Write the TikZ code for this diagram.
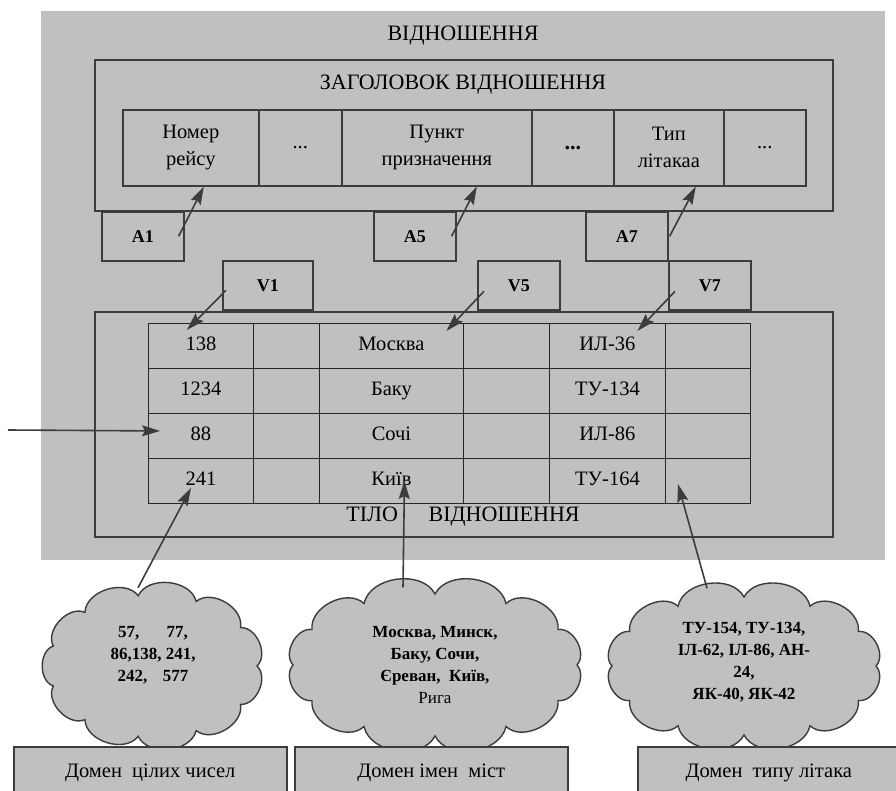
\documentclass[tikz,border=0pt]{standalone}
\usepackage{fontspec}
\setmainfont{Liberation Serif}
\usepackage{tikz}
\usetikzlibrary{arrows.meta,positioning}
\definecolor{panel}{HTML}{C0C0C0}
\definecolor{ink}{HTML}{3C3C3C}
% cloud outline: centre x, centre y, half axes a and b, number of puffs
\newcommand{\puffcloud}[5]{%
  \draw[puff] ([shift={(0:#3 and #4)}]#1,#2)
    \foreach \k in {1,...,#5}{ to[bend left=70] ([shift={({\k*360/#5}:#3 and #4)}]#1,#2) } -- cycle;}

\begin{document}
\begin{tikzpicture}[
  x=1pt, y=-1pt,
  box/.style={draw=ink, line width=1.6pt, fill=panel, anchor=north west, inner sep=0pt},
  hcell/.style={box, minimum height=76pt, align=center, font=\fontsize{20.5}{27}\selectfont},
  tag/.style={box, minimum width=82pt, minimum height=49pt, font=\bfseries\fontsize{18}{20}\selectfont},
  tcell/.style={draw=black!85, line width=0.9pt, anchor=north west, minimum height=45pt,
    inner sep=0pt, text height=14pt, text depth=4pt, font=\fontsize{20.5}{23}\selectfont},
  puff/.style={draw=ink, line width=1.4pt, fill=panel},
  valcloud/.style={inner sep=0pt, align=center, font=\bfseries\fontsize{17}{22}\selectfont},
  dombox/.style={box, minimum height=52pt, font=\fontsize{20.5}{23}\selectfont},
  arr/.style={-{Stealth[length=18pt, width=11pt, inset=3pt]}, draw=ink, line width=1.6pt},
]
  \useasboundingbox (0,0) rectangle (896,791);

  \node[fill=panel, anchor=north west, minimum width=844pt, minimum height=549pt, inner sep=0pt] (rel) at (41,11) {};
  \node[font=\fontsize{22}{24}\selectfont] (title) at (463,36) {ВІДНОШЕННЯ};

  \node[box, minimum width=738pt, minimum height=151pt] (head) at (94,59) {};
  \node[font=\fontsize{22}{24}\selectfont] (htitle) at (463,85) {ЗАГОЛОВОК ВІДНОШЕННЯ};
  \node[hcell, minimum width=136pt] (h1) at (122,109) {Номер\\рейсу};
  \node[hcell, minimum width=83pt] (h2) at (258,109) {...};
  \node[hcell, minimum width=190pt] (h3) at (341,109) {Пункт\\призначення};
  \node[hcell, minimum width=82pt, font=\bfseries\fontsize{22}{26}\selectfont] (h4) at (531,109) {...};
  \node[hcell, minimum width=110pt] (h5) at (613,109) {Тип\\літакаа};
  \node[hcell, minimum width=82pt] (h6) at (723,109) {...};

  \node[tag] (a1) at (101,211) {A1};
  \node[tag] (a5) at (373,211) {A5};
  \node[tag] (a7) at (585,211) {A7};
  \node[tag, minimum width=90pt] (v1) at (222,260) {V1};
  \node[tag] (v5) at (477,260) {V5};
  \node[tag] (v7) at (668,260) {V7};

  \node[box, minimum width=738pt, minimum height=225pt] (body) at (94,311) {};
  \foreach \r/\y/\a/\b/\c in {1/323/138/Москва/ИЛ-36, 2/368/1234/Баку/ТУ-134,
                              3/413/88/Сочі/ИЛ-86, 4/458/241/Київ/ТУ-164} {
    \node[tcell, minimum width=105pt] (t\r1) at (148,\y) {\a};
    \node[tcell, minimum width=66pt]  (t\r2) at (253,\y) {};
    \node[tcell, minimum width=144pt] (t\r3) at (319,\y) {\b};
    \node[tcell, minimum width=86pt]  (t\r4) at (463,\y) {};
    \node[tcell, minimum width=116pt] (t\r5) at (549,\y) {\c};
    \node[tcell, minimum width=85pt]  (t\r6) at (665,\y) {};
  }
  \node[font=\fontsize{22}{24}\selectfont] (btitle) at (463,517) {ТІЛО\hspace{1.4em}ВІДНОШЕННЯ};

  \puffcloud{153}{666}{104}{71}{11}
  \puffcloud{435}{665}{142}{71}{12}
  \puffcloud{744}{666}{132}{69}{12}
  \node[valcloud, minimum width=220pt, minimum height=158pt] (c1) at (153,655)
    {57,\hspace{1.6em}77,\\86,138, 241,\\242,\hspace{0.9em}577};
  \node[valcloud, minimum width=284pt, minimum height=157pt] (c2) at (435,665)
    {Москва, Минск,\\Баку, Сочи,\\Єреван,\ \ Київ,\\{\mdseries Рига}};
  \node[valcloud, minimum width=278pt, minimum height=153pt] (c3) at (744,662)
    {ТУ-154, ТУ-134,\\ІЛ-62, ІЛ-86, АН-\\24,\\ЯК-40, ЯК-42};

  \node[dombox, minimum width=273pt] (d1) at (13,746) {Домен\ \ цілих чисел};
  \node[dombox, minimum width=273pt] (d2) at (294,746) {Домен імен\ \ міст};
  \node[dombox, minimum width=262pt] (d3) at (637,746) {Домен\ \ типу літака};

  \coordinate (in) at (8,430);

  \draw[arr] ([xshift=-6pt]a1.east) -- ([xshift=13pt]h1.south);
  \draw[arr] ([xshift=-5pt]a5.east) -- ([xshift=40pt]h3.south);
  \draw[arr] ([xshift=1pt]a7.east) -- ([xshift=27pt]h5.south);
  \draw[arr] ([shift={(4,5)}]v1.west) -- ([shift={(-14,-16)}]t11.center);
  \draw[arr] ([shift={(7,6)}]v5.west) -- ([shift={(55,-15)}]t13.center);
  \draw[arr] ([shift={(7,6)}]v7.west) -- ([shift={(30,-15)}]t15.center);
  \draw[arr] (in) -- ([shift={(12,-5)}]t31.west);
  \draw[arr] ([shift={(-15,12)}]c1.north) -- ([shift={(-10,7)}]t41.center);
  \draw[arr] ([shift={(-32,1)}]c2.north) -- ([shift={(13,0)}]t43.center);
  \draw[arr] ([shift={(-37,3)}]c3.north) -- ([shift={(-30,3)}]t46.center);
\end{tikzpicture}
\end{document}
